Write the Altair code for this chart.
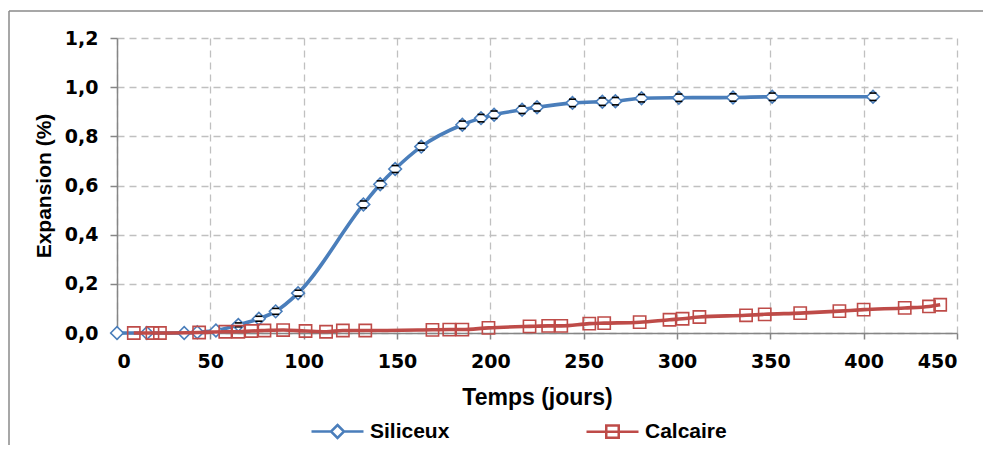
import altair as alt
import pandas as pd

# ---- data ----
series_names = ["Siliceux", "Calcaire"]

days_sil = [0, 16, 36, 43, 53, 65, 76, 85, 97, 132, 141, 149, 163, 185, 195, 202,
            217, 225, 244, 260, 267, 281, 301, 330, 351, 405]
exp_sil = [0.0, 0.0, 0.0, 0.003, 0.01, 0.033, 0.058, 0.088, 0.162, 0.523, 0.605, 0.667,
           0.758, 0.847, 0.874, 0.888, 0.908, 0.918, 0.936, 0.941, 0.943, 0.955, 0.957,
           0.958, 0.961, 0.961]
err_sil = [0, 0, 0, 0, 0, 0.008, 0.01, 0.012, 0.012, 0.014, 0.014, 0.014, 0.014, 0.015,
           0.015, 0.015, 0.015, 0.015, 0.015, 0.015, 0.015, 0.015, 0.015, 0.015, 0.015, 0.015]

days_cal = [9, 19, 23, 44, 58, 65, 72, 79, 89, 101, 112, 121, 133, 169, 178, 185, 199,
            221, 231, 238, 253, 261, 280, 296, 303, 312, 337, 347, 366, 387, 400, 422,
            435, 441]
exp_cal = [0.0, 0.0, 0.0, 0.002, 0.005, 0.005, 0.008, 0.01, 0.012, 0.008, 0.005, 0.01,
           0.01, 0.013, 0.014, 0.014, 0.021, 0.027, 0.029, 0.029, 0.038, 0.04, 0.044,
           0.054, 0.058, 0.065, 0.072, 0.076, 0.081, 0.089, 0.095, 0.102, 0.108, 0.115]

x_ticks = [0, 50, 100, 150, 200, 250, 300, 350, 400, 450]
y_ticks = [0.0, 0.2, 0.4, 0.6, 0.8, 1.0, 1.2]

# ---- tables ----
sil = pd.DataFrame({"t": days_sil, "e": exp_sil, "err": err_sil})
sil["lo"] = sil["e"] - sil["err"]
sil["hi"] = sil["e"] + sil["err"]
cal = pd.DataFrame({"t": days_cal, "e": exp_cal})
leg_df = pd.DataFrame({"series": series_names})
one = pd.DataFrame({"a": [0]})

BLUE = "#4A7EBB"
RED = "#BE4B48"
FONT = "Liberation Sans"
TICKFONT = "DejaVu Sans"

x_enc = alt.X("t:Q", scale=alt.Scale(domain=[0, 450], nice=False),
              axis=alt.Axis(values=x_ticks, title="Temps (jours)", grid=True,
                            tickSize=6, labelPadding=13, titlePadding=15, format="d",
                            titleFontSize=23))
y_enc = alt.Y("e:Q", scale=alt.Scale(domain=[0, 1.2], nice=False),
              axis=alt.Axis(values=y_ticks, title="Expansion (%)", grid=True,
                            tickSize=7, labelPadding=12, titlePadding=10,
                            titleFontSize=21,
                            labelExpr="replace(format(datum.value, '.1f'), '.', ',')"))

line_s = alt.Chart(sil).mark_line(color=BLUE, strokeWidth=3.6, interpolate="monotone").encode(
    x=x_enc, y=y_enc)
pts_s = alt.Chart(sil).mark_point(shape="diamond", size=160, filled=True, fill="white",
                                  stroke=BLUE, strokeWidth=1.6, opacity=1).encode(
    x="t:Q", y="e:Q")
cap_hi = alt.Chart(sil).transform_filter("datum.err > 0").mark_tick(
    color="black", thickness=1.6, size=7, orient="horizontal", opacity=1).encode(x="t:Q", y="hi:Q")
cap_lo = alt.Chart(sil).transform_filter("datum.err > 0").mark_tick(
    color="black", thickness=1.6, size=7, orient="horizontal", opacity=1).encode(x="t:Q", y="lo:Q")

line_c = alt.Chart(cal).mark_line(color=RED, strokeWidth=3.6, interpolate="monotone").encode(
    x="t:Q", y="e:Q")
pts_c = alt.Chart(cal).mark_point(shape="square", size=150, filled=False,
                                  stroke=RED, strokeWidth=1.6, opacity=1).encode(
    x="t:Q", y="e:Q")

diamond_path = "M-1,0H-0.25M0.25,0H1M0,-0.25L0.25,0L0,0.25L-0.25,0Z"
square_path = "M-1,0H1M-0.24,-0.24H0.24V0.24H-0.24Z"

leg = alt.Legend(orient="none", legendX=193, legendY=366, direction="horizontal",
                 title=None, labelFont=FONT, labelFontSize=21, labelFontWeight="bold",
                 labelColor="black", symbolSize=2704, symbolStrokeWidth=2.5,
                 symbolFillColor="white", labelOffset=5, columnPadding=131, padding=0)

legend_layer = alt.Chart(leg_df).transform_filter("false").mark_point(
    filled=True, fill="white", strokeWidth=2.5, opacity=1).encode(
    stroke=alt.Stroke("series:N", scale=alt.Scale(domain=series_names, range=[BLUE, RED]),
                      legend=leg),
    shape=alt.Shape("series:N", scale=alt.Scale(domain=series_names,
                                                range=[diamond_path, square_path]),
                    legend=leg),
)

frame_top = alt.Chart(one).mark_rule(color="#8A8A8A", strokeWidth=1.5).encode(
    x=alt.value(-108), x2=alt.value(870), y=alt.value(-27))
frame_left = alt.Chart(one).mark_rule(color="#8A8A8A", strokeWidth=1.5).encode(
    x=alt.value(-108), y=alt.value(-27), y2=alt.value(410))

chart = alt.layer(
    frame_top, frame_left, line_s, pts_s, cap_hi, cap_lo, line_c, pts_c, legend_layer
).properties(
    width=840, height=295,
    padding={"left": 109, "top": 30, "right": 26, "bottom": 112},
    autosize=alt.AutoSizeParams(type="none"),
    background="white",
).configure_view(stroke=None).configure_axis(
    labelFont=TICKFONT, labelFontSize=19, labelFontWeight="bold", labelColor="black",
    titleFont=FONT, titleFontWeight="bold", titleColor="black",
    domainColor="#868686", domainWidth=1.5, tickColor="#868686", tickWidth=1.5,
    gridColor="#C0C0C0", gridDash=[7, 5], gridWidth=1.3,
)

chart.save("out.html", embed_options={"renderer": "svg", "actions": False})
